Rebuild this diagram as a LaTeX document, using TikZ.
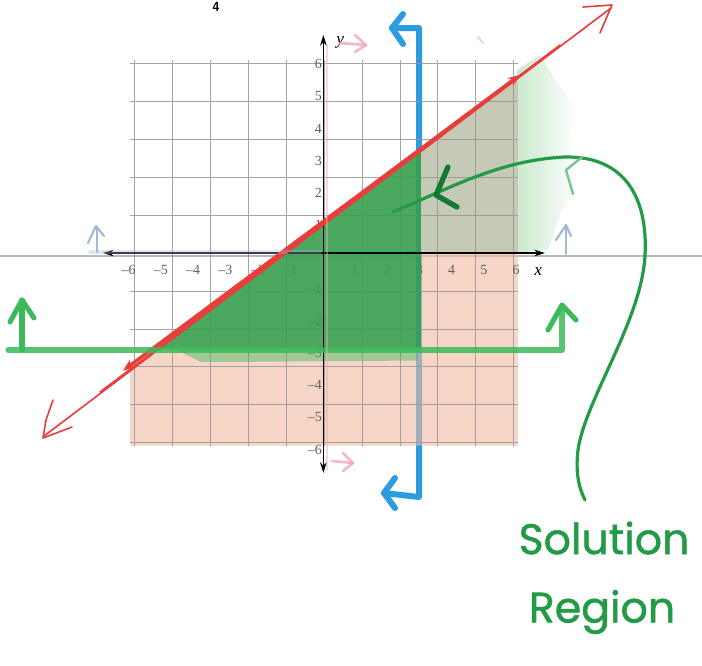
\documentclass[tikz,border=0pt]{standalone}
\usepackage{fontspec}
\newfontfamily\handfont[FakeBold=1.2]{Poppins}
\newfontfamily\lblfont{Liberation Serif}
\usetikzlibrary{arrows.meta}
\definecolor{pinkfill}{RGB}{243,188,163}
\definecolor{graygreen}{RGB}{196,202,182}
\definecolor{trigreen}{RGB}{55,160,77}
\definecolor{linegreen}{RGB}{60,185,90}
\definecolor{darkgreen}{RGB}{20,120,50}
\definecolor{textgreen}{RGB}{35,155,70}
\definecolor{crayonblue}{RGB}{45,155,225}
\definecolor{redline}{RGB}{235,60,60}
\definecolor{gridgray}{RGB}{150,150,150}
\definecolor{lblgray}{RGB}{95,95,95}
\definecolor{paleblue}{RGB}{165,185,215}
\definecolor{palepink}{RGB}{245,165,190}
\definecolor{lightgreen}{RGB}{190,228,195}
\tikzset{
  lbl/.style={font=\lblfont\fontsize{10.5}{10.5}\selectfont, text=lblgray, inner sep=0pt},
  crayonb/.style={crayonblue, line width=4.5pt},
  crayong/.style={linegreen, line width=3.8pt},
  redthick/.style={redline, line width=2.6pt},
  redthin/.style={redline, line width=1.2pt},
  annot/.style={textgreen, line width=2.4pt},
  axisline/.style={black, line width=0.9pt},
  handtext/.style={font=\handfont\fontsize{32}{32}\selectfont, text=textgreen, inner sep=0pt}
}
\begin{document}
\begin{tikzpicture}[x=0.75pt,y=-0.75pt, line cap=round, line join=round,
  >={Stealth[length=8pt,width=5pt]}]
\useasboundingbox (0,0) rectangle (702,665);
\fill[white] (0,0) rectangle (702,665);
% scan line
\draw[gray!55, line width=0.8pt] (0,256) -- (702,256);
\node[font=\sffamily\bfseries\fontsize{10}{10}\selectfont, anchor=south, inner sep=0pt] (topfour) at (216,12) {4};

% blue boundary x = 3
\draw[crayonb] (392,28) -- (419,28) -- (419,497) -- (384,493);
\draw[crayonb] (403,14) -- (392,28) -- (403,44);
\draw[crayonb] (395,478) -- (384,493) -- (395,508);

% light green beyond grid
\shade[left color=lightgreen, right color=white, opacity=0.8]
  (517,253) -- (548,250) -- (560,215) -- (575,185) -- (568,140) -- (578,110) -- (555,80) -- (540,55) -- (517,70) -- cycle;

\begin{scope}[shift={(243pt,-189.75pt)}, x=24.225pt, y=24.075pt]
  % pink regions
  \fill[pinkfill, opacity=0.6] (-6,-6) -- (6,-6) -- (6,-3) -- (-5.333,-3) -- (-6,-3.5) -- cycle;
  \fill[pinkfill, opacity=0.6] (3,-3) rectangle (6,0);
  \fill[graygreen] (3,0) -- (6,0) -- (6,5.5) -- (3,3.25) -- cycle;
  % grid
  \draw[gridgray, line width=0.5pt, opacity=0.85] (-6,-6) grid (6,6);
  % labels
  \foreach \k/\t in {-6/–6,-5/–5,-4/–4,-3/–3,-2/–2,-1/–1,1/1,2/2,3/3,4/4,5/5,6/6}{
    \node[lbl] (xl\k) at (\k-0.05,-0.52) {\t};
    \node[lbl, anchor=east] (yl\k) at (-0.06,\k-0.12) {\t};
  }
  % green halo under boundary
  \fill[linegreen, opacity=0.45] (-4.6,-3) -- (2.9,-3) -- (2.9,-3.35) -- (-3.8,-3.4) -- cycle;
  % solution triangle
  \fill[trigreen, opacity=0.9] (-5.333,-3) -- (3,-3) -- (3,3.25) -- cycle;
  % axes
  \coordinate (xa) at (-6.84,0);
  \coordinate (xb) at (6.84,0);
  \coordinate (ya) at (-0.02,-6.85);
  \coordinate (yb) at (-0.02,6.79);
  \draw[axisline, <->] (xa) -- (xb);
  \draw[axisline, <->] (ya) -- (yb);
  \node[font=\lblfont\itshape\fontsize{13}{13}\selectfont, inner sep=0pt] (xname) at (6.63,-0.58) {x};
  \node[font=\lblfont\itshape\fontsize{13}{13}\selectfont, inner sep=0pt] (yname) at (0.5,6.55) {y};
  % red boundary y = 3/4 x + 1
  \coordinate (ra) at (-6.22,-3.665);
  \coordinate (rb) at (6.07,5.55);
  \draw[redthick, {Stealth[length=9pt,width=7pt]}-{Stealth[length=9pt,width=7pt]}] (ra) -- (rb);
\end{scope}

% red thin companion lines with hand-drawn heads
\draw[redthin] (44,436) -- (611,8);
\draw[redthin] (100,392) -- (560,45);
\draw[redthin] (583,7) -- (612,5) -- (600,33);
\draw[redthin] (53,400) -- (46,420) -- (43,438) -- (72,427);

% green boundary y = -3
\draw[crayong, opacity=0.85] (8,350) -- (562,350) -- (562,306);
\draw[crayong] (10,322) -- (22,300) -- (34,318);
\draw[crayong] (22,350) -- (22,300);
\draw[crayong] (548,330) -- (562,305) -- (576,320);

% faint pink marks
\draw[palepink, line width=2pt, opacity=0.45] (327,45) -- (327,470);
\draw[palepink, line width=2pt, opacity=0.8] (340,43) -- (366,45);
\draw[palepink, line width=2pt, opacity=0.8] (355,35) -- (366,45) -- (355,52);
\draw[palepink, line width=2pt, opacity=0.8] (332,461) -- (353,463);
\draw[palepink, line width=2pt, opacity=0.8] (343,453) -- (353,463) -- (343,471);
\draw[palepink, line width=1.5pt, opacity=0.6] (478,37) -- (483,43);

% faint blue marks
\draw[paleblue, line width=3pt, opacity=0.35] (90,252) -- (320,252);
\draw[paleblue, line width=1.6pt] (97,252) -- (97,227);
\draw[paleblue, line width=1.6pt] (88,243) -- (96,226) -- (104,236);
\draw[paleblue, line width=1.6pt] (566,254) -- (566,226);
\draw[paleblue, line width=1.6pt] (556,240) -- (566,225) -- (571,236);

% annotation arrow
\draw[annot] (393,212) .. controls (450,188) and (500,160) .. (565,157)
  .. controls (625,156) and (648,198) .. (645,255)
  .. controls (642,320) and (585,400) .. (578,450)
  .. controls (575,475) and (580,490) .. (585,500);
\draw[textgreen!60, line width=1.8pt] (582,157) -- (566,170) -- (573,194);
\draw[darkgreen, line width=4pt] (448,167) -- (436,195) -- (457,207);

% label text
\node[handtext] (soltext) at (604,538) {Solution};
\node[handtext] (regtext) at (602,612) {Region};
\end{tikzpicture}
\end{document}
